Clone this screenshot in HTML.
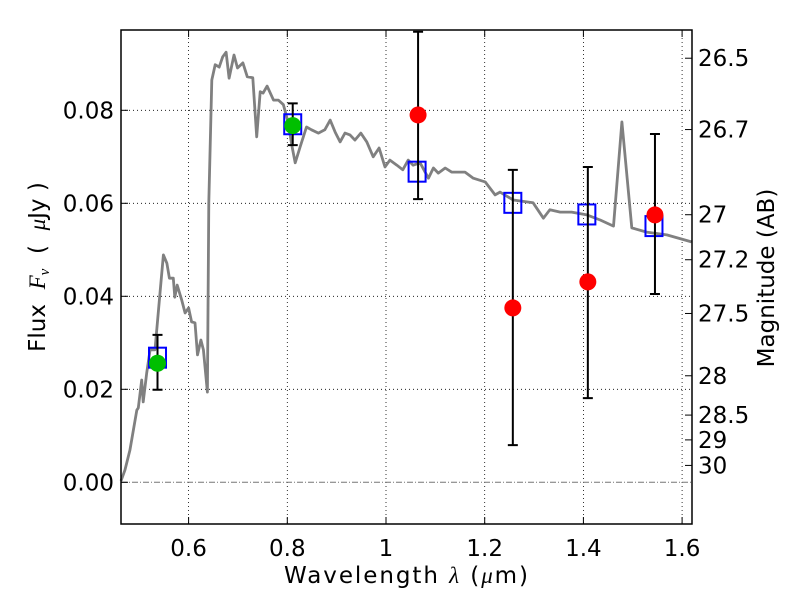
<!DOCTYPE html>
<html><head><meta charset="utf-8"><style>
html,body{margin:0;padding:0;background:#fff;}
svg{display:block;font-family:"DejaVu Sans","Liberation Sans",sans-serif;}
</style></head><body>
<svg id="chart" width="800" height="600" viewBox="0 0 800 600">
<rect width="800" height="600" fill="#fff"/>
<g id="grid"></g>
<g id="plot"></g>
<g id="axes"></g>
<text x="406" y="583" font-size="23" text-anchor="middle" textLength="244" lengthAdjust="spacing">Wavelength  <tspan font-style="italic" font-family="Liberation Serif, serif">λ</tspan> (<tspan font-style="italic" font-family="Liberation Serif, serif">μ</tspan>m)</text>
<text transform="translate(45,267) rotate(-90)" font-size="23" text-anchor="middle">Flux&#160;&#160;<tspan font-style="italic" font-family="Liberation Serif, serif">F<tspan font-size="15" dy="4">ν</tspan></tspan><tspan dy="-4">&#160;&#160;(&#160;&#160;</tspan><tspan font-style="italic" font-family="Liberation Serif, serif">μ</tspan>Jy )</text>
<text transform="translate(774,278) rotate(-90)" font-size="23" text-anchor="middle">Magnitude (AB)</text>
</svg>
<script>
const sedLambda=[0.463,0.471,0.481,0.495,0.498,0.505,0.508,0.515,0.522,0.532,0.542,0.549,0.556,0.561,0.569,0.572,0.577,0.586,0.593,0.600,0.606,0.613,0.618,0.625,0.630,0.638,0.641,0.647,0.654,0.662,0.669,0.676,0.682,0.692,0.699,0.710,0.719,0.730,0.738,0.745,0.751,0.759,0.772,0.782,0.792,0.802,0.809,0.816,0.826,0.839,0.849,0.863,0.876,0.887,0.897,0.907,0.917,0.927,0.937,0.949,0.961,0.974,0.986,0.998,1.008,1.022,1.034,1.045,1.055,1.069,1.086,1.096,1.106,1.120,1.133,1.160,1.177,1.201,1.221,1.231,1.258,1.298,1.319,1.332,1.353,1.376,1.407,1.434,1.461,1.478,1.498,1.528,1.569,1.619];
const sedFlux=[0.0003,0.0026,0.0069,0.0155,0.0160,0.0220,0.0173,0.0235,0.0285,0.0285,0.0407,0.0489,0.0471,0.0439,0.0439,0.0398,0.0424,0.0392,0.0364,0.0375,0.0345,0.0343,0.0274,0.0306,0.0285,0.0194,0.0601,0.0865,0.0898,0.0893,0.0915,0.0925,0.0869,0.0919,0.0891,0.0902,0.0872,0.0870,0.0743,0.0840,0.0837,0.0852,0.0822,0.0822,0.0812,0.0773,0.0726,0.0687,0.0721,0.0764,0.0758,0.0751,0.0758,0.0779,0.0753,0.0732,0.0751,0.0747,0.0736,0.0751,0.0732,0.0700,0.0719,0.0678,0.0693,0.0682,0.0672,0.0693,0.0682,0.0687,0.0654,0.0676,0.0665,0.0676,0.0667,0.0667,0.0654,0.0646,0.0618,0.0624,0.0607,0.0601,0.0568,0.0586,0.0581,0.0581,0.0575,0.0564,0.0551,0.0775,0.0547,0.0538,0.0532,0.0517];
const modelLambda=[0.537,0.811,1.063,1.257,1.407,1.543];
const modelFlux=[0.0268,0.0770,0.0668,0.0601,0.0576,0.0551];
const greenLambda=[0.537,0.811];
const greenFlux=[0.0256,0.0767];
const greenErrLo=[0.0199,0.0725];
const greenErrHi=[0.0317,0.0815];
const redLambda=[1.065,1.257,1.409,1.545];
const redFlux=[0.0790,0.0375,0.0431,0.0575];
const redErrLo=[0.0609,0.0080,0.0181,0.0405];
const redErrHi=[0.0969,0.0672,0.0678,0.0749];
const xTicks=[0.6,0.8,1.0,1.2,1.4,1.6];
const xTickLabels=["0.6","0.8","1","1.2","1.4","1.6"];
const yTicks=[0,0.02,0.04,0.06,0.08];
const yTickLabels=["0.00","0.02","0.04","0.06","0.08"];
const magTicks=[26.5,26.7,27,27.2,27.5,28,28.5,29,30];
const magTickLabels=["26.5","26.7","27","27.2","27.5","28","28.5","29","30"];

const L=121,R=692,T=30,B=524;
const X=v=>386+(v-1)*493.5;
const Y=v=>482.3-v*4650;
const NS="http://www.w3.org/2000/svg";
function mk(tag,parent,attrs){const e=document.createElementNS(NS,tag);for(const k in attrs)e.setAttribute(k,attrs[k]);parent.appendChild(e);return e;}
const grid=document.getElementById('grid'),plot=document.getElementById('plot'),axes=document.getElementById('axes');

xTicks.forEach((t,i)=>{
  let g=mk('line',grid,{x1:X(t),x2:X(t),y1:T,y2:B,stroke:'#000','stroke-width':0.8,'stroke-dasharray':'1,3'});
  
  
  let tk=mk('line',axes,{x1:X(t),x2:X(t),y1:B,y2:B-7,stroke:'#000','stroke-width':1});
  
  
  let tk2=mk('line',axes,{x1:X(t),x2:X(t),y1:T,y2:T+7,stroke:'#000','stroke-width':1});
  
  
  let tx=mk('text',axes,{x:X(t),y:B+32,'font-size':23,'text-anchor':'middle'});
  tx.textContent=xTickLabels[i];
  
  
});
yTicks.forEach((t,i)=>{
  if(t!==0){let g=mk('line',grid,{x1:L,x2:R,y1:Y(t),y2:Y(t),stroke:'#000','stroke-width':0.8,'stroke-dasharray':'1,3'});
  
  }
  let tk=mk('line',axes,{x1:L,x2:L+7,y1:Y(t),y2:Y(t),stroke:'#000','stroke-width':1});
  
  
  let tx=mk('text',axes,{x:L-7,y:Y(t)+8,'font-size':23,'text-anchor':'end'});
  tx.textContent=yTickLabels[i];
  
  
});
magTicks.forEach((m,i)=>{
  const f=Math.pow(10,(23.9-m)/2.5);
  let tk=mk('line',axes,{x1:R,x2:R-7,y1:Y(f),y2:Y(f),stroke:'#000','stroke-width':1});
  
  
  let tx=mk('text',axes,{x:R+6,y:Y(f)+8,'font-size':23,'text-anchor':'start'});
  tx.textContent=magTickLabels[i];
  
  
});
let z=mk('line',plot,{x1:L,x2:R,y1:Y(0),y2:Y(0),stroke:'#777','stroke-width':1,'stroke-dasharray':'6,2,1,2'});


let d=sedLambda.map((l,i)=>(i?'L':'M')+X(l).toFixed(1)+','+Y(sedFlux[i]).toFixed(1)).join(' ');
let sed=mk('path',plot,{d:d,fill:'none',stroke:'#808080','stroke-width':2.8,'stroke-linejoin':'round'});


modelLambda.forEach((l,i)=>{
  let r=mk('rect',plot,{x:X(l)-8.5,y:Y(modelFlux[i])-10,width:17,height:20,fill:'none',stroke:'#0000ff','stroke-width':2});
  
  
});
function errbar(l,lo,hi,name){
  const x=X(l);
  let g=mk('path',plot,{d:`M${x},${Y(lo)} L${x},${Y(hi)} M${x-5},${Y(lo)} L${x+5},${Y(lo)} M${x-5},${Y(hi)} L${x+5},${Y(hi)}`,stroke:'#000','stroke-width':2,fill:'none'});
  
  
}
greenLambda.forEach((l,i)=>{
  errbar(l,greenErrLo[i],greenErrHi[i],'green-error-bar');
  let c=mk('circle',plot,{cx:X(l),cy:Y(greenFlux[i]),r:8.5,fill:'#00bf00'});
  
  
});
redLambda.forEach((l,i)=>{
  errbar(l,redErrLo[i],redErrHi[i],'red-error-bar');
  let c=mk('circle',plot,{cx:X(l),cy:Y(redFlux[i]),r:8.5,fill:'#ff0000'});
  
  
});
let fr=mk('rect',axes,{x:L,y:T,width:R-L,height:B-T,fill:'none',stroke:'#000','stroke-width':1.5});


</script>
</body></html>
